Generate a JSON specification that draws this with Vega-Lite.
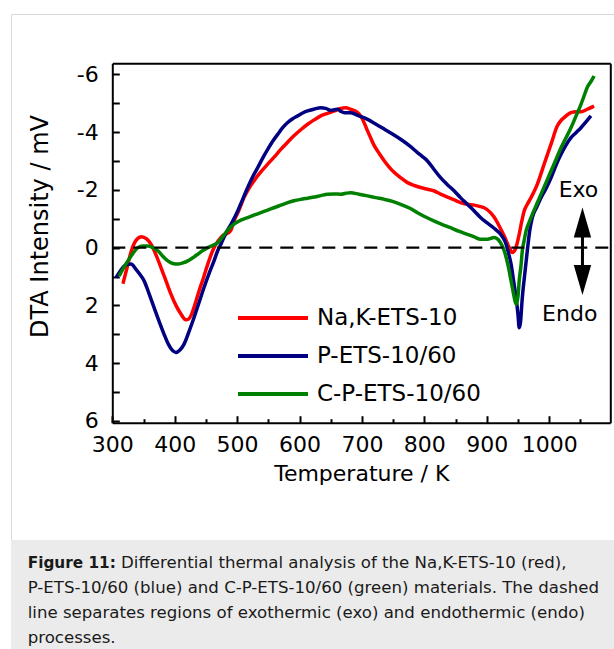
{
  "$schema": "https://vega.github.io/schema/vega-lite/v6.json",
  "padding": {"left": 10, "top": 13, "right": 0, "bottom": 0},
  "background": "white",
  "spacing": 0,
  "bounds": "flush",
  "config": {
    "font": "DejaVu Sans",
    "view": {"stroke": null},
    "axis": {
      "grid": false,
      "domainColor": "black",
      "tickColor": "black",
      "labelColor": "black",
      "titleColor": "black",
      "labelFont": "DejaVu Sans",
      "titleFont": "DejaVu Sans",
      "titleFontWeight": "normal",
      "labelFlush": false,
      "labelOverlap": false
    }
  },
  "datasets": {
    "curves": [
      {"s": "Na,K-ETS-10", "T": 317, "V": 1.25}, {"s": "Na,K-ETS-10", "T": 323, "V": 0.75}, {"s": "Na,K-ETS-10", "T": 330, "V": 0.15}, {"s": "Na,K-ETS-10", "T": 338, "V": -0.25}, {"s": "Na,K-ETS-10", "T": 347, "V": -0.38}, {"s": "Na,K-ETS-10", "T": 355, "V": -0.3}, {"s": "Na,K-ETS-10", "T": 362, "V": -0.12}, {"s": "Na,K-ETS-10", "T": 370, "V": 0.25}, {"s": "Na,K-ETS-10", "T": 378, "V": 0.69}, {"s": "Na,K-ETS-10", "T": 386, "V": 1.15}, {"s": "Na,K-ETS-10", "T": 394, "V": 1.61}, {"s": "Na,K-ETS-10", "T": 402, "V": 2.0}, {"s": "Na,K-ETS-10", "T": 410, "V": 2.3}, {"s": "Na,K-ETS-10", "T": 418, "V": 2.5}, {"s": "Na,K-ETS-10", "T": 422, "V": 2.48}, {"s": "Na,K-ETS-10", "T": 426, "V": 2.36}, {"s": "Na,K-ETS-10", "T": 432, "V": 2.0}, {"s": "Na,K-ETS-10", "T": 439, "V": 1.5}, {"s": "Na,K-ETS-10", "T": 446, "V": 1.05}, {"s": "Na,K-ETS-10", "T": 453, "V": 0.57}, {"s": "Na,K-ETS-10", "T": 463, "V": 0.0}, {"s": "Na,K-ETS-10", "T": 470, "V": -0.25}, {"s": "Na,K-ETS-10", "T": 477, "V": -0.42}, {"s": "Na,K-ETS-10", "T": 485, "V": -0.5}, {"s": "Na,K-ETS-10", "T": 490, "V": -0.6}, {"s": "Na,K-ETS-10", "T": 495, "V": -0.92}, {"s": "Na,K-ETS-10", "T": 503, "V": -1.3}, {"s": "Na,K-ETS-10", "T": 511, "V": -1.73}, {"s": "Na,K-ETS-10", "T": 519, "V": -2.05}, {"s": "Na,K-ETS-10", "T": 527, "V": -2.31}, {"s": "Na,K-ETS-10", "T": 538, "V": -2.62}, {"s": "Na,K-ETS-10", "T": 549, "V": -2.89}, {"s": "Na,K-ETS-10", "T": 560, "V": -3.15}, {"s": "Na,K-ETS-10", "T": 570, "V": -3.4}, {"s": "Na,K-ETS-10", "T": 581, "V": -3.65}, {"s": "Na,K-ETS-10", "T": 591, "V": -3.87}, {"s": "Na,K-ETS-10", "T": 602, "V": -4.08}, {"s": "Na,K-ETS-10", "T": 613, "V": -4.27}, {"s": "Na,K-ETS-10", "T": 624, "V": -4.43}, {"s": "Na,K-ETS-10", "T": 634, "V": -4.56}, {"s": "Na,K-ETS-10", "T": 645, "V": -4.65}, {"s": "Na,K-ETS-10", "T": 656, "V": -4.73}, {"s": "Na,K-ETS-10", "T": 666, "V": -4.82}, {"s": "Na,K-ETS-10", "T": 674, "V": -4.84}, {"s": "Na,K-ETS-10", "T": 682, "V": -4.79}, {"s": "Na,K-ETS-10", "T": 690, "V": -4.72}, {"s": "Na,K-ETS-10", "T": 698, "V": -4.56}, {"s": "Na,K-ETS-10", "T": 704, "V": -4.3}, {"s": "Na,K-ETS-10", "T": 709, "V": -4.04}, {"s": "Na,K-ETS-10", "T": 715, "V": -3.75}, {"s": "Na,K-ETS-10", "T": 720, "V": -3.52}, {"s": "Na,K-ETS-10", "T": 728, "V": -3.25}, {"s": "Na,K-ETS-10", "T": 736, "V": -3.0}, {"s": "Na,K-ETS-10", "T": 744, "V": -2.78}, {"s": "Na,K-ETS-10", "T": 752, "V": -2.6}, {"s": "Na,K-ETS-10", "T": 762, "V": -2.42}, {"s": "Na,K-ETS-10", "T": 773, "V": -2.25}, {"s": "Na,K-ETS-10", "T": 784, "V": -2.15}, {"s": "Na,K-ETS-10", "T": 794, "V": -2.08}, {"s": "Na,K-ETS-10", "T": 805, "V": -2.02}, {"s": "Na,K-ETS-10", "T": 816, "V": -1.96}, {"s": "Na,K-ETS-10", "T": 826, "V": -1.85}, {"s": "Na,K-ETS-10", "T": 837, "V": -1.75}, {"s": "Na,K-ETS-10", "T": 848, "V": -1.65}, {"s": "Na,K-ETS-10", "T": 858, "V": -1.56}, {"s": "Na,K-ETS-10", "T": 869, "V": -1.5}, {"s": "Na,K-ETS-10", "T": 880, "V": -1.47}, {"s": "Na,K-ETS-10", "T": 890, "V": -1.42}, {"s": "Na,K-ETS-10", "T": 896, "V": -1.38}, {"s": "Na,K-ETS-10", "T": 906, "V": -1.21}, {"s": "Na,K-ETS-10", "T": 912, "V": -1.05}, {"s": "Na,K-ETS-10", "T": 917, "V": -0.87}, {"s": "Na,K-ETS-10", "T": 923, "V": -0.62}, {"s": "Na,K-ETS-10", "T": 928, "V": -0.4}, {"s": "Na,K-ETS-10", "T": 932, "V": -0.2}, {"s": "Na,K-ETS-10", "T": 936, "V": 0.0}, {"s": "Na,K-ETS-10", "T": 941, "V": 0.17}, {"s": "Na,K-ETS-10", "T": 946, "V": 0.05}, {"s": "Na,K-ETS-10", "T": 952, "V": -0.46}, {"s": "Na,K-ETS-10", "T": 956, "V": -0.9}, {"s": "Na,K-ETS-10", "T": 960, "V": -1.27}, {"s": "Na,K-ETS-10", "T": 965, "V": -1.5}, {"s": "Na,K-ETS-10", "T": 971, "V": -1.73}, {"s": "Na,K-ETS-10", "T": 981, "V": -2.19}, {"s": "Na,K-ETS-10", "T": 992, "V": -2.89}, {"s": "Na,K-ETS-10", "T": 1003, "V": -3.58}, {"s": "Na,K-ETS-10", "T": 1013, "V": -4.21}, {"s": "Na,K-ETS-10", "T": 1019, "V": -4.4}, {"s": "Na,K-ETS-10", "T": 1024, "V": -4.5}, {"s": "Na,K-ETS-10", "T": 1035, "V": -4.67}, {"s": "Na,K-ETS-10", "T": 1043, "V": -4.7}, {"s": "Na,K-ETS-10", "T": 1051, "V": -4.7}, {"s": "Na,K-ETS-10", "T": 1061, "V": -4.79}, {"s": "Na,K-ETS-10", "T": 1072, "V": -4.9},
      {"s": "P-ETS-10/60", "T": 306, "V": 1.04}, {"s": "P-ETS-10/60", "T": 313, "V": 0.8}, {"s": "P-ETS-10/60", "T": 320, "V": 0.62}, {"s": "P-ETS-10/60", "T": 330, "V": 0.57}, {"s": "P-ETS-10/60", "T": 338, "V": 0.75}, {"s": "P-ETS-10/60", "T": 345, "V": 0.95}, {"s": "P-ETS-10/60", "T": 351, "V": 1.15}, {"s": "P-ETS-10/60", "T": 359, "V": 1.6}, {"s": "P-ETS-10/60", "T": 367, "V": 2.08}, {"s": "P-ETS-10/60", "T": 375, "V": 2.55}, {"s": "P-ETS-10/60", "T": 383, "V": 3.0}, {"s": "P-ETS-10/60", "T": 390, "V": 3.35}, {"s": "P-ETS-10/60", "T": 396, "V": 3.55}, {"s": "P-ETS-10/60", "T": 402, "V": 3.63}, {"s": "P-ETS-10/60", "T": 408, "V": 3.55}, {"s": "P-ETS-10/60", "T": 415, "V": 3.34}, {"s": "P-ETS-10/60", "T": 423, "V": 2.9}, {"s": "P-ETS-10/60", "T": 431, "V": 2.42}, {"s": "P-ETS-10/60", "T": 439, "V": 1.9}, {"s": "P-ETS-10/60", "T": 447, "V": 1.38}, {"s": "P-ETS-10/60", "T": 455, "V": 0.9}, {"s": "P-ETS-10/60", "T": 463, "V": 0.46}, {"s": "P-ETS-10/60", "T": 469, "V": 0.1}, {"s": "P-ETS-10/60", "T": 474, "V": -0.12}, {"s": "P-ETS-10/60", "T": 482, "V": -0.5}, {"s": "P-ETS-10/60", "T": 490, "V": -0.8}, {"s": "P-ETS-10/60", "T": 501, "V": -1.27}, {"s": "P-ETS-10/60", "T": 509, "V": -1.68}, {"s": "P-ETS-10/60", "T": 517, "V": -2.08}, {"s": "P-ETS-10/60", "T": 525, "V": -2.45}, {"s": "P-ETS-10/60", "T": 533, "V": -2.77}, {"s": "P-ETS-10/60", "T": 541, "V": -3.1}, {"s": "P-ETS-10/60", "T": 549, "V": -3.4}, {"s": "P-ETS-10/60", "T": 557, "V": -3.68}, {"s": "P-ETS-10/60", "T": 565, "V": -3.92}, {"s": "P-ETS-10/60", "T": 573, "V": -4.15}, {"s": "P-ETS-10/60", "T": 581, "V": -4.33}, {"s": "P-ETS-10/60", "T": 589, "V": -4.46}, {"s": "P-ETS-10/60", "T": 597, "V": -4.56}, {"s": "P-ETS-10/60", "T": 605, "V": -4.66}, {"s": "P-ETS-10/60", "T": 613, "V": -4.73}, {"s": "P-ETS-10/60", "T": 624, "V": -4.8}, {"s": "P-ETS-10/60", "T": 634, "V": -4.84}, {"s": "P-ETS-10/60", "T": 642, "V": -4.82}, {"s": "P-ETS-10/60", "T": 650, "V": -4.75}, {"s": "P-ETS-10/60", "T": 656, "V": -4.77}, {"s": "P-ETS-10/60", "T": 661, "V": -4.79}, {"s": "P-ETS-10/60", "T": 666, "V": -4.72}, {"s": "P-ETS-10/60", "T": 672, "V": -4.67}, {"s": "P-ETS-10/60", "T": 682, "V": -4.67}, {"s": "P-ETS-10/60", "T": 695, "V": -4.56}, {"s": "P-ETS-10/60", "T": 709, "V": -4.44}, {"s": "P-ETS-10/60", "T": 722, "V": -4.28}, {"s": "P-ETS-10/60", "T": 736, "V": -4.1}, {"s": "P-ETS-10/60", "T": 749, "V": -3.93}, {"s": "P-ETS-10/60", "T": 762, "V": -3.75}, {"s": "P-ETS-10/60", "T": 776, "V": -3.53}, {"s": "P-ETS-10/60", "T": 789, "V": -3.29}, {"s": "P-ETS-10/60", "T": 797, "V": -3.15}, {"s": "P-ETS-10/60", "T": 805, "V": -3.0}, {"s": "P-ETS-10/60", "T": 815, "V": -2.72}, {"s": "P-ETS-10/60", "T": 826, "V": -2.42}, {"s": "P-ETS-10/60", "T": 837, "V": -2.18}, {"s": "P-ETS-10/60", "T": 848, "V": -1.96}, {"s": "P-ETS-10/60", "T": 858, "V": -1.73}, {"s": "P-ETS-10/60", "T": 869, "V": -1.5}, {"s": "P-ETS-10/60", "T": 880, "V": -1.27}, {"s": "P-ETS-10/60", "T": 890, "V": -1.04}, {"s": "P-ETS-10/60", "T": 899, "V": -0.88}, {"s": "P-ETS-10/60", "T": 907, "V": -0.75}, {"s": "P-ETS-10/60", "T": 914, "V": -0.63}, {"s": "P-ETS-10/60", "T": 920, "V": -0.52}, {"s": "P-ETS-10/60", "T": 926, "V": -0.35}, {"s": "P-ETS-10/60", "T": 931, "V": -0.12}, {"s": "P-ETS-10/60", "T": 935, "V": 0.2}, {"s": "P-ETS-10/60", "T": 939, "V": 0.57}, {"s": "P-ETS-10/60", "T": 943, "V": 1.15}, {"s": "P-ETS-10/60", "T": 947, "V": 1.73}, {"s": "P-ETS-10/60", "T": 950, "V": 2.3}, {"s": "P-ETS-10/60", "T": 952, "V": 2.77}, {"s": "P-ETS-10/60", "T": 954, "V": 2.6}, {"s": "P-ETS-10/60", "T": 957, "V": 1.73}, {"s": "P-ETS-10/60", "T": 961, "V": 0.9}, {"s": "P-ETS-10/60", "T": 965, "V": 0.11}, {"s": "P-ETS-10/60", "T": 969, "V": -0.6}, {"s": "P-ETS-10/60", "T": 973, "V": -1.04}, {"s": "P-ETS-10/60", "T": 980, "V": -1.4}, {"s": "P-ETS-10/60", "T": 987, "V": -1.73}, {"s": "P-ETS-10/60", "T": 995, "V": -2.05}, {"s": "P-ETS-10/60", "T": 1003, "V": -2.42}, {"s": "P-ETS-10/60", "T": 1011, "V": -2.85}, {"s": "P-ETS-10/60", "T": 1019, "V": -3.23}, {"s": "P-ETS-10/60", "T": 1027, "V": -3.55}, {"s": "P-ETS-10/60", "T": 1035, "V": -3.81}, {"s": "P-ETS-10/60", "T": 1043, "V": -3.98}, {"s": "P-ETS-10/60", "T": 1051, "V": -4.15}, {"s": "P-ETS-10/60", "T": 1059, "V": -4.35}, {"s": "P-ETS-10/60", "T": 1067, "V": -4.56},
      {"s": "C-P-ETS-10/60", "T": 311, "V": 0.98}, {"s": "C-P-ETS-10/60", "T": 318, "V": 0.7}, {"s": "C-P-ETS-10/60", "T": 325, "V": 0.46}, {"s": "C-P-ETS-10/60", "T": 333, "V": 0.2}, {"s": "C-P-ETS-10/60", "T": 341, "V": 0.0}, {"s": "C-P-ETS-10/60", "T": 349, "V": -0.06}, {"s": "C-P-ETS-10/60", "T": 357, "V": -0.06}, {"s": "C-P-ETS-10/60", "T": 365, "V": 0.0}, {"s": "C-P-ETS-10/60", "T": 373, "V": 0.11}, {"s": "C-P-ETS-10/60", "T": 381, "V": 0.3}, {"s": "C-P-ETS-10/60", "T": 389, "V": 0.46}, {"s": "C-P-ETS-10/60", "T": 397, "V": 0.55}, {"s": "C-P-ETS-10/60", "T": 405, "V": 0.57}, {"s": "C-P-ETS-10/60", "T": 413, "V": 0.53}, {"s": "C-P-ETS-10/60", "T": 421, "V": 0.46}, {"s": "C-P-ETS-10/60", "T": 429, "V": 0.35}, {"s": "C-P-ETS-10/60", "T": 437, "V": 0.23}, {"s": "C-P-ETS-10/60", "T": 445, "V": 0.1}, {"s": "C-P-ETS-10/60", "T": 453, "V": 0.0}, {"s": "C-P-ETS-10/60", "T": 461, "V": -0.08}, {"s": "C-P-ETS-10/60", "T": 469, "V": -0.17}, {"s": "C-P-ETS-10/60", "T": 474, "V": -0.3}, {"s": "C-P-ETS-10/60", "T": 484, "V": -0.58}, {"s": "C-P-ETS-10/60", "T": 495, "V": -0.81}, {"s": "C-P-ETS-10/60", "T": 506, "V": -0.95}, {"s": "C-P-ETS-10/60", "T": 517, "V": -1.04}, {"s": "C-P-ETS-10/60", "T": 528, "V": -1.13}, {"s": "C-P-ETS-10/60", "T": 538, "V": -1.21}, {"s": "C-P-ETS-10/60", "T": 549, "V": -1.3}, {"s": "C-P-ETS-10/60", "T": 559, "V": -1.38}, {"s": "C-P-ETS-10/60", "T": 570, "V": -1.47}, {"s": "C-P-ETS-10/60", "T": 581, "V": -1.56}, {"s": "C-P-ETS-10/60", "T": 591, "V": -1.62}, {"s": "C-P-ETS-10/60", "T": 602, "V": -1.67}, {"s": "C-P-ETS-10/60", "T": 613, "V": -1.71}, {"s": "C-P-ETS-10/60", "T": 624, "V": -1.75}, {"s": "C-P-ETS-10/60", "T": 634, "V": -1.8}, {"s": "C-P-ETS-10/60", "T": 645, "V": -1.85}, {"s": "C-P-ETS-10/60", "T": 655, "V": -1.86}, {"s": "C-P-ETS-10/60", "T": 666, "V": -1.85}, {"s": "C-P-ETS-10/60", "T": 674, "V": -1.88}, {"s": "C-P-ETS-10/60", "T": 682, "V": -1.9}, {"s": "C-P-ETS-10/60", "T": 695, "V": -1.85}, {"s": "C-P-ETS-10/60", "T": 709, "V": -1.79}, {"s": "C-P-ETS-10/60", "T": 722, "V": -1.73}, {"s": "C-P-ETS-10/60", "T": 736, "V": -1.67}, {"s": "C-P-ETS-10/60", "T": 749, "V": -1.6}, {"s": "C-P-ETS-10/60", "T": 762, "V": -1.5}, {"s": "C-P-ETS-10/60", "T": 776, "V": -1.37}, {"s": "C-P-ETS-10/60", "T": 789, "V": -1.21}, {"s": "C-P-ETS-10/60", "T": 802, "V": -1.06}, {"s": "C-P-ETS-10/60", "T": 816, "V": -0.92}, {"s": "C-P-ETS-10/60", "T": 829, "V": -0.8}, {"s": "C-P-ETS-10/60", "T": 842, "V": -0.69}, {"s": "C-P-ETS-10/60", "T": 855, "V": -0.57}, {"s": "C-P-ETS-10/60", "T": 869, "V": -0.46}, {"s": "C-P-ETS-10/60", "T": 880, "V": -0.37}, {"s": "C-P-ETS-10/60", "T": 890, "V": -0.29}, {"s": "C-P-ETS-10/60", "T": 901, "V": -0.29}, {"s": "C-P-ETS-10/60", "T": 912, "V": -0.35}, {"s": "C-P-ETS-10/60", "T": 917, "V": -0.3}, {"s": "C-P-ETS-10/60", "T": 922, "V": -0.17}, {"s": "C-P-ETS-10/60", "T": 928, "V": 0.11}, {"s": "C-P-ETS-10/60", "T": 934, "V": 0.6}, {"s": "C-P-ETS-10/60", "T": 939, "V": 1.15}, {"s": "C-P-ETS-10/60", "T": 943, "V": 1.6}, {"s": "C-P-ETS-10/60", "T": 947, "V": 1.96}, {"s": "C-P-ETS-10/60", "T": 950, "V": 1.7}, {"s": "C-P-ETS-10/60", "T": 952, "V": 1.15}, {"s": "C-P-ETS-10/60", "T": 955, "V": 0.6}, {"s": "C-P-ETS-10/60", "T": 957, "V": 0.11}, {"s": "C-P-ETS-10/60", "T": 960, "V": -0.25}, {"s": "C-P-ETS-10/60", "T": 963, "V": -0.58}, {"s": "C-P-ETS-10/60", "T": 968, "V": -0.88}, {"s": "C-P-ETS-10/60", "T": 973, "V": -1.15}, {"s": "C-P-ETS-10/60", "T": 980, "V": -1.5}, {"s": "C-P-ETS-10/60", "T": 987, "V": -1.85}, {"s": "C-P-ETS-10/60", "T": 995, "V": -2.25}, {"s": "C-P-ETS-10/60", "T": 1003, "V": -2.65}, {"s": "C-P-ETS-10/60", "T": 1011, "V": -3.05}, {"s": "C-P-ETS-10/60", "T": 1019, "V": -3.46}, {"s": "C-P-ETS-10/60", "T": 1027, "V": -3.8}, {"s": "C-P-ETS-10/60", "T": 1035, "V": -4.15}, {"s": "C-P-ETS-10/60", "T": 1043, "V": -4.55}, {"s": "C-P-ETS-10/60", "T": 1051, "V": -4.96}, {"s": "C-P-ETS-10/60", "T": 1056, "V": -5.25}, {"s": "C-P-ETS-10/60", "T": 1061, "V": -5.54}, {"s": "C-P-ETS-10/60", "T": 1067, "V": -5.75}, {"s": "C-P-ETS-10/60", "T": 1072, "V": -5.94}
    ],
    "labels": [
      {"label": "Exo", "T": 1047, "V": -1.76},
      {"label": "Endo", "T": 1033, "V": 2.54}
    ],
    "arrow": [
      {"part": "shaft", "T": 1053.4, "V": -1.0, "V2": 1.2}
    ],
    "heads": [
      {"dir": "up", "T": 1053.4, "V": -0.35},
      {"dir": "down", "T": 1053.4, "V": 0.6}
    ],
    "zero": [
      {"T": 300, "T2": 1098, "V": 0}
    ],
    "caption": [
      {"part": "bold", "line": 1, "text": "Figure 11:"},
      {"part": "first", "line": 1, "text": "Differential thermal analysis of the Na,K-ETS-10 (red),"},
      {"part": "rest", "line": 2, "text": "P-ETS-10/60 (blue) and C-P-ETS-10/60 (green) materials. The dashed"},
      {"part": "rest", "line": 3, "text": "line separates regions of exothermic (exo) and endothermic (endo)"},
      {"part": "rest", "line": 4, "text": "processes."}
    ]
  },
  "vconcat": [
    {
      "width": 604,
      "height": 526,
      "view": {"fill": "white", "stroke": "#d8d8d8", "strokeWidth": 1},
      "resolve": {"axis": {"x": "independent", "y": "independent"}},
      "layer": [
        {
          "data": {"name": "curves"},
          "mark": {"type": "line", "strokeWidth": 3.5, "interpolate": "monotone"},
          "encoding": {
            "x": {
              "field": "T", "type": "quantitative",
              "scale": {"domain": [300, 1098], "range": [101.3, 599.3], "nice": false, "zero": false},
              "axis": {
                "orient": "bottom", "offset": -117.3,
                "values": [300, 400, 500, 600, 700, 800, 900, 1000],
                "format": "d",
                "tickSize": -7, "tickWidth": 2, "domainWidth": 2,
                "labelFontSize": 22, "labelPadding": 19,
                "title": "Temperature / K", "titleFontSize": 22, "titlePadding": 8
              }
            },
            "y": {
              "field": "V", "type": "quantitative",
              "scale": {"domain": [-6.38, 6.06], "range": [49.3, 408.7], "nice": false, "zero": false},
              "axis": {
                "orient": "left", "offset": -101.3,
                "values": [-6, -5, -4, -3, -2, -1, 0, 1, 2, 3, 4, 5, 6],
                "labelExpr": "datum.value % 2 == 0 ? toString(datum.value) : ''",
                "tickSize": -7, "tickWidth": 2, "domainWidth": 2,
                "labelFontSize": 22, "labelPadding": 21,
                "title": "DTA Intensity / mV", "titleFontSize": 24, "titlePadding": 24, "titleY": 212
              }
            },
            "color": {
              "field": "s", "type": "nominal",
              "scale": {"domain": ["Na,K-ETS-10", "P-ETS-10/60", "C-P-ETS-10/60"], "range": ["#ff0000", "#000080", "#008000"]},
              "legend": {
                "orient": "none", "legendX": 225, "legendY": 285, "title": null, "padding": 0,
                "symbolType": "stroke", "symbolSize": 4900, "symbolStrokeWidth": 4,
                "clipHeight": 38, "rowPadding": 0,
                "labelFontSize": 23, "labelFont": "DejaVu Sans", "labelColor": "black", "labelOffset": 7, "labelLimit": 400
              }
            }
          }
        },
        {
          "data": {"name": "zero"},
          "mark": {"type": "rule", "strokeWidth": 2.2, "strokeDash": [13, 8], "color": "black"},
          "encoding": {
            "x": {
              "field": "T", "type": "quantitative",
              "axis": {"orient": "top", "offset": -49.3, "ticks": false, "labels": false, "domain": true, "domainWidth": 2, "title": null}
            },
            "x2": {"field": "T2"},
            "y": {
              "field": "V", "type": "quantitative",
              "axis": {"orient": "right", "offset": -4.7, "ticks": false, "labels": false, "domain": true, "domainWidth": 2, "title": null}
            }
          }
        },
        {
          "data": {"name": "labels"},
          "mark": {"type": "text", "fontSize": 22, "font": "DejaVu Sans", "color": "black", "align": "center", "baseline": "alphabetic"},
          "encoding": {
            "x": {
              "field": "T", "type": "quantitative",
              "axis": {
                "orient": "bottom", "offset": -117.3,
                "values": [350, 450, 550, 650, 750, 850, 950, 1050],
                "labels": false, "domain": false, "title": null,
                "tickSize": -4, "tickWidth": 2
              }
            },
            "y": {"field": "V", "type": "quantitative", "axis": null},
            "text": {"field": "label"}
          }
        },
        {
          "data": {"name": "arrow"},
          "mark": {"type": "rule", "strokeWidth": 3, "color": "black"},
          "encoding": {
            "x": {"field": "T", "type": "quantitative", "axis": null},
            "y": {"field": "V", "type": "quantitative", "axis": null},
            "y2": {"field": "V2"}
          }
        },
        {
          "data": {"name": "heads"},
          "transform": [{"filter": "datum.dir == 'up'"}],
          "mark": {"type": "point", "shape": "M0,-1L0.29,0L-0.29,0Z", "size": 3600, "filled": true, "color": "black", "opacity": 1},
          "encoding": {
            "x": {"field": "T", "type": "quantitative", "axis": null},
            "y": {"field": "V", "type": "quantitative", "axis": null}
          }
        },
        {
          "data": {"name": "heads"},
          "transform": [{"filter": "datum.dir == 'down'"}],
          "mark": {"type": "point", "shape": "M0,1L0.29,0L-0.29,0Z", "size": 3600, "filled": true, "color": "black", "opacity": 1},
          "encoding": {
            "x": {"field": "T", "type": "quantitative", "axis": null},
            "y": {"field": "V", "type": "quantitative", "axis": null}
          }
        }
      ]
    },
    {
      "width": 604,
      "height": 110,
      "view": {"fill": "#ebebeb", "stroke": null},
      "data": {"name": "caption"},
      "layer": [
        {
          "transform": [{"filter": "datum.part == 'bold'"}],
          "mark": {"type": "text", "align": "left", "baseline": "alphabetic", "fontWeight": "bold", "fontSize": 15.3, "font": "DejaVu Sans", "color": "#1a1a1a", "dx": 16.7},
          "encoding": {
            "x": {"datum": 0, "type": "quantitative", "scale": {"domain": [0, 1]}, "axis": null},
            "y": {"field": "line", "type": "quantitative", "scale": {"domain": [0, 4], "range": [2.5, 103.3]}, "axis": null},
            "text": {"field": "text"}
          }
        },
        {
          "transform": [{"filter": "datum.part == 'first'"}],
          "mark": {"type": "text", "align": "left", "baseline": "alphabetic", "fontSize": 16.6, "font": "DejaVu Sans", "color": "#1a1a1a", "dx": 110},
          "encoding": {
            "x": {"datum": 0, "type": "quantitative", "axis": null},
            "y": {"field": "line", "type": "quantitative", "axis": null},
            "text": {"field": "text"}
          }
        },
        {
          "transform": [{"filter": "datum.part == 'rest'"}],
          "mark": {"type": "text", "align": "left", "baseline": "alphabetic", "fontSize": 16.6, "font": "DejaVu Sans", "color": "#1a1a1a", "dx": 16.7},
          "encoding": {
            "x": {"datum": 0, "type": "quantitative", "axis": null},
            "y": {"field": "line", "type": "quantitative", "axis": null},
            "text": {"field": "text"}
          }
        }
      ]
    }
  ]
}
